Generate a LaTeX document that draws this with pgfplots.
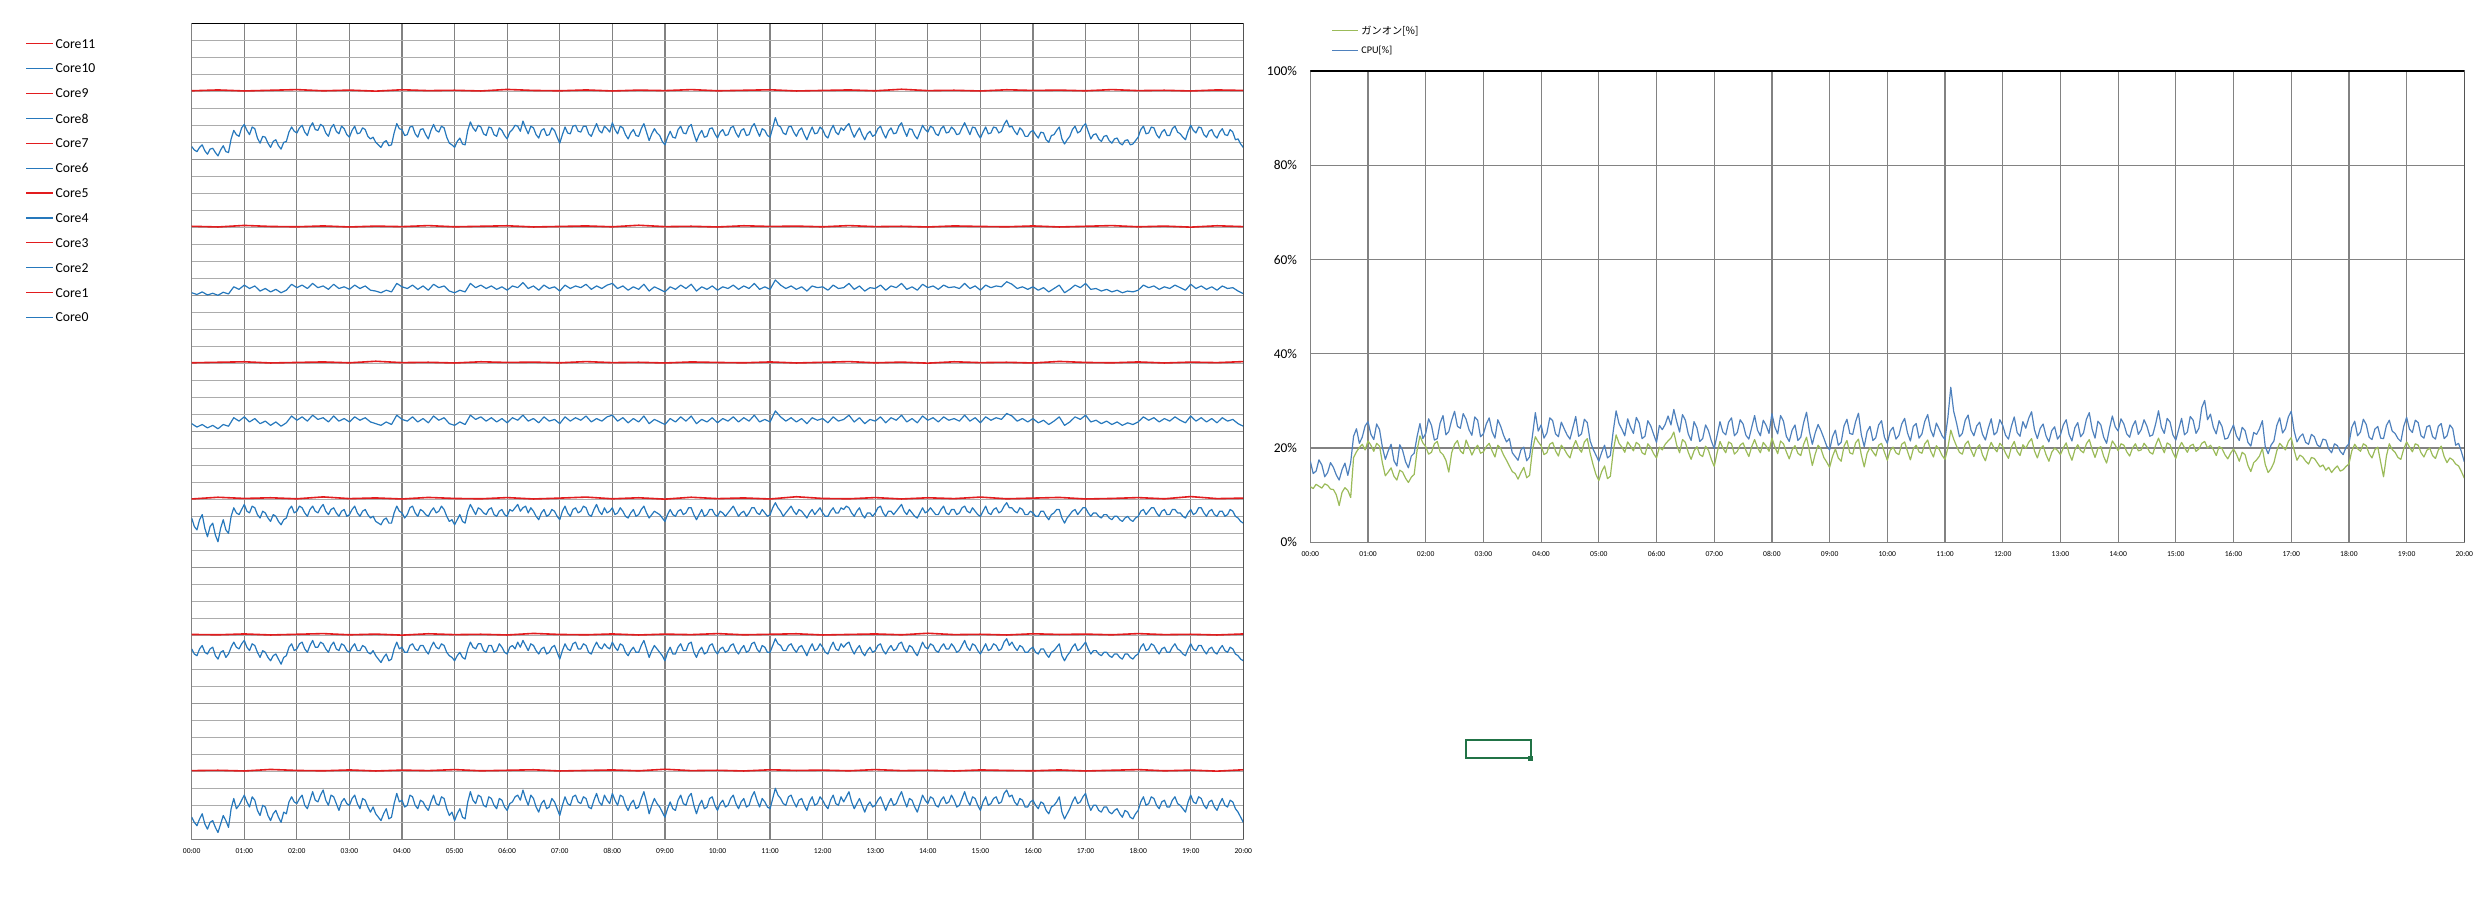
\documentclass[border=0pt]{standalone}
\usepackage{fontspec}
\setmainfont{Carlito}
\newfontfamily\jpfont{Noto Sans CJK JP}
\usepackage{pgfplots}
\usepackage{pgfplotstable}
\pgfplotsset{compat=1.18}
\definecolor{cblue}{RGB}{38,120,188}
\definecolor{cred}{RGB}{226,28,30}
\definecolor{cpublue}{RGB}{79,129,189}
\definecolor{gangreen}{RGB}{155,187,89}
\definecolor{gmaj}{RGB}{130,130,130}
\definecolor{gmid}{RGB}{150,150,150}
\definecolor{gmin}{RGB}{172,172,172}
\definecolor{xlgreen}{RGB}{33,115,70}
\newcommand\fs[1]{\fontsize{#1}{#1}\selectfont}

% ---- right chart (0.05 h steps) ----
\pgfplotstableread[header=false,row sep=\\]{
17.2\\14.6\\15.1\\17.5\\16.4\\13.9\\14.8\\16.9\\15.9\\14.3\\13.2\\15.4\\16.8\\14.2\\17.0\\22.5\\24.1\\21.0\\22.3\\24.7\\
25.6\\22.9\\21.8\\25.1\\23.9\\20.1\\17.6\\19.4\\20.8\\17.3\\16.2\\20.7\\19.5\\17.1\\15.8\\18.3\\18.9\\22.4\\25.2\\22.0\\
23.1\\26.2\\24.8\\21.7\\22.0\\25.3\\26.9\\22.8\\23.5\\25.9\\27.8\\24.6\\24.2\\27.3\\26.1\\23.9\\22.7\\26.6\\25.9\\22.4\\
23.0\\25.1\\26.4\\23.5\\22.1\\26.0\\24.6\\22.7\\21.3\\22.0\\19.0\\18.2\\17.4\\19.6\\20.2\\17.3\\18.1\\22.6\\27.5\\23.6\\
24.9\\22.1\\23.2\\26.4\\25.8\\23.0\\22.4\\25.5\\24.1\\22.8\\21.9\\24.3\\26.7\\22.5\\23.0\\26.1\\25.4\\21.5\\19.8\\18.5\\
17.2\\19.1\\20.6\\17.9\\18.4\\23.6\\27.9\\25.2\\24.0\\22.6\\26.2\\24.4\\23.1\\26.5\\25.3\\22.0\\22.5\\25.8\\24.7\\22.9\\
21.2\\24.8\\23.9\\25.0\\26.8\\24.9\\28.2\\25.6\\23.4\\27.1\\25.9\\23.0\\21.6\\25.6\\24.3\\21.4\\22.0\\24.9\\23.7\\21.5\\
19.9\\22.7\\25.6\\23.4\\22.8\\25.5\\26.4\\22.6\\23.3\\26.0\\25.1\\22.7\\21.9\\24.4\\26.9\\23.8\\22.6\\25.9\\24.8\\23.1\\
27.3\\24.5\\23.0\\26.9\\25.7\\22.5\\21.4\\23.8\\24.9\\21.6\\22.3\\25.4\\27.6\\23.5\\20.8\\23.2\\25.0\\23.7\\22.1\\20.4\\
19.6\\22.4\\23.8\\20.6\\21.2\\24.7\\26.1\\23.1\\22.9\\25.6\\27.4\\22.8\\20.3\\23.5\\24.6\\21.6\\22.2\\24.9\\25.8\\22.3\\
21.0\\23.6\\24.4\\21.9\\22.7\\25.1\\26.3\\23.2\\21.5\\24.6\\25.2\\22.1\\23.0\\25.7\\27.1\\23.9\\22.4\\25.3\\24.0\\22.6\\
21.8\\26.5\\32.9\\27.8\\25.3\\22.4\\23.1\\25.9\\27.0\\23.8\\22.6\\24.7\\25.5\\22.9\\21.7\\24.2\\26.2\\22.8\\23.4\\26.0\\
24.8\\22.7\\21.9\\24.6\\26.6\\23.3\\22.5\\25.6\\24.2\\26.3\\27.7\\23.9\\22.0\\24.2\\25.1\\22.6\\21.3\\23.7\\24.5\\21.9\\
22.8\\24.9\\26.0\\22.9\\21.5\\24.3\\25.4\\22.4\\23.2\\26.1\\27.5\\24.0\\22.1\\25.7\\24.9\\22.3\\21.0\\24.1\\26.8\\24.5\\
23.6\\26.2\\25.1\\23.0\\22.3\\24.6\\25.8\\22.9\\23.9\\26.0\\24.6\\22.5\\22.8\\25.1\\27.9\\24.4\\23.1\\26.3\\25.5\\22.8\\
21.7\\24.0\\26.3\\22.8\\23.4\\26.7\\25.9\\23.1\\24.2\\28.6\\30.1\\26.0\\27.2\\24.4\\23.0\\25.8\\24.6\\21.9\\22.1\\23.6\\
24.9\\22.6\\21.6\\24.4\\23.7\\21.2\\20.4\\23.3\\22.9\\24.1\\25.8\\20.3\\18.8\\20.6\\21.5\\24.8\\26.4\\23.2\\24.1\\26.6\\
27.8\\23.7\\21.3\\22.4\\23.0\\21.2\\20.8\\22.9\\22.4\\20.7\\20.2\\21.9\\21.7\\19.8\\19.0\\20.9\\20.5\\19.3\\18.6\\20.2\\
20.9\\24.4\\25.7\\22.6\\23.4\\26.1\\25.0\\22.3\\21.8\\24.0\\24.6\\22.1\\22.0\\24.8\\25.9\\23.6\\23.1\\22.0\\21.4\\24.6\\
26.5\\24.0\\23.3\\25.9\\25.4\\22.6\\22.1\\24.5\\24.8\\22.4\\21.9\\24.6\\25.2\\22.0\\22.6\\24.9\\24.1\\20.6\\21.0\\19.2\\
17.1\\
}\tcpu
\pgfplotstableread[header=false,row sep=\\]{
11.8\\11.4\\12.3\\11.9\\11.5\\12.4\\12.1\\11.3\\11.2\\10.1\\7.8\\10.6\\11.6\\11.0\\9.5\\18.0\\19.2\\20.1\\20.8\\19.6\\
21.5\\20.6\\19.3\\21.0\\20.4\\16.8\\14.1\\14.9\\15.8\\14.0\\13.2\\15.3\\14.9\\13.6\\12.7\\13.8\\14.4\\19.5\\22.6\\21.1\\
20.3\\18.7\\19.1\\20.9\\21.4\\19.2\\18.6\\17.4\\14.9\\19.0\\20.8\\21.6\\19.4\\18.8\\21.7\\20.2\\18.5\\19.8\\20.6\\18.9\\
19.2\\20.3\\21.0\\19.4\\18.1\\20.6\\19.9\\18.5\\17.4\\16.2\\15.0\\14.6\\13.4\\14.8\\15.9\\13.7\\14.2\\19.6\\22.4\\21.3\\
20.5\\18.6\\19.0\\20.8\\21.2\\19.4\\18.3\\20.6\\19.8\\18.7\\17.9\\20.1\\21.6\\20.0\\19.1\\21.3\\22.0\\18.9\\16.5\\14.4\\
13.1\\15.0\\16.2\\13.5\\14.0\\19.3\\22.8\\21.0\\20.2\\19.1\\21.3\\20.4\\19.4\\21.2\\20.7\\19.0\\18.6\\20.9\\20.1\\18.8\\
17.9\\20.2\\19.6\\20.8\\21.5\\22.1\\23.4\\20.6\\19.0\\21.8\\21.2\\19.1\\17.6\\19.4\\20.3\\18.6\\18.2\\20.4\\19.5\\17.6\\
16.1\\19.0\\21.4\\20.0\\19.0\\21.3\\20.9\\18.7\\19.3\\20.6\\21.1\\19.5\\18.2\\20.3\\21.8\\20.1\\19.0\\21.2\\20.4\\19.3\\
22.1\\20.3\\18.8\\21.5\\20.9\\19.2\\17.7\\19.6\\20.5\\18.9\\18.4\\20.8\\22.3\\19.4\\16.3\\18.7\\20.6\\19.8\\18.0\\17.0\\
15.9\\18.2\\19.8\\17.9\\17.2\\20.4\\21.6\\19.0\\18.7\\21.1\\21.9\\18.5\\16.0\\18.9\\20.1\\19.2\\18.3\\20.6\\21.0\\19.1\\
17.4\\19.5\\20.2\\19.0\\18.6\\20.8\\21.3\\19.3\\17.5\\19.8\\20.6\\19.2\\18.9\\20.9\\21.7\\19.4\\18.1\\20.5\\19.7\\18.4\\
17.6\\20.1\\23.8\\21.9\\20.4\\19.1\\18.7\\20.8\\21.5\\19.6\\18.2\\20.0\\20.7\\18.5\\17.3\\19.6\\21.2\\20.0\\19.2\\21.0\\
20.3\\18.9\\17.8\\20.2\\21.4\\19.3\\18.4\\20.7\\19.9\\21.2\\22.0\\19.4\\17.9\\19.8\\20.5\\18.6\\17.2\\19.1\\20.0\\19.5\\
18.6\\20.0\\21.1\\18.9\\17.4\\19.6\\20.7\\19.5\\19.0\\20.9\\21.8\\19.7\\18.0\\19.9\\20.3\\18.2\\16.8\\19.3\\21.5\\20.6\\
19.4\\20.9\\20.6\\19.2\\18.3\\20.0\\20.9\\19.4\\19.6\\21.0\\20.2\\19.1\\18.7\\20.6\\22.1\\20.4\\19.0\\21.1\\20.7\\19.0\\
17.8\\19.9\\21.2\\20.1\\19.1\\20.5\\20.8\\19.3\\19.8\\21.0\\21.4\\20.0\\20.6\\19.7\\18.4\\20.3\\19.9\\18.6\\17.7\\18.9\\
19.8\\18.7\\17.2\\19.1\\18.6\\16.3\\15.0\\16.9\\17.5\\18.3\\19.9\\16.5\\14.8\\15.6\\16.9\\19.4\\21.0\\20.3\\19.6\\21.4\\
22.2\\19.6\\17.4\\18.5\\18.1\\17.2\\16.6\\18.0\\17.8\\16.9\\16.0\\16.4\\15.3\\15.9\\14.8\\15.6\\16.2\\15.1\\15.4\\16.1\\
16.6\\19.4\\20.8\\19.9\\19.3\\20.9\\20.5\\18.8\\17.9\\19.6\\20.2\\17.0\\13.9\\18.3\\20.9\\19.7\\19.1\\18.0\\17.6\\19.8\\
21.3\\20.2\\19.2\\20.9\\20.6\\19.0\\18.1\\19.5\\20.0\\18.4\\17.8\\19.6\\20.4\\18.2\\16.9\\17.9\\17.5\\16.6\\16.2\\15.0\\
13.6\\
}\tgan

% ---- left chart, blue cores ----
% Core0 (0.05 h steps)
\pgfplotstableread[header=false,row sep=\\]{
1.3\\1.0\\0.8\\1.2\\1.5\\0.9\\0.6\\1.0\\1.1\\0.7\\0.4\\0.9\\1.4\\1.1\\0.7\\1.8\\2.4\\1.8\\2.0\\2.3\\
2.6\\2.2\\1.9\\2.5\\2.3\\1.7\\1.4\\2.0\\1.9\\1.4\\1.1\\1.5\\1.7\\1.3\\1.0\\1.6\\1.5\\2.2\\2.5\\2.2\\
2.1\\2.4\\2.6\\2.0\\1.8\\2.3\\2.8\\2.3\\2.2\\2.6\\2.9\\2.3\\2.0\\2.6\\2.5\\2.1\\1.7\\2.2\\2.4\\2.1\\
2.0\\2.4\\2.6\\2.1\\1.8\\2.4\\2.3\\1.9\\1.6\\1.9\\1.5\\1.3\\1.1\\1.5\\1.8\\1.2\\1.3\\2.1\\2.7\\2.2\\
2.3\\1.9\\2.0\\2.6\\2.5\\2.0\\1.8\\2.3\\2.2\\1.9\\1.7\\2.2\\2.6\\2.1\\2.0\\2.5\\2.4\\1.8\\1.4\\1.6\\
1.1\\1.5\\1.8\\1.3\\1.2\\2.2\\2.8\\2.3\\2.1\\2.6\\2.5\\2.0\\1.9\\2.5\\2.4\\2.0\\1.8\\2.4\\2.3\\1.9\\
1.7\\2.1\\2.2\\2.5\\2.6\\2.3\\2.9\\2.4\\2.0\\2.6\\2.4\\1.9\\1.6\\2.1\\2.3\\1.8\\1.9\\2.4\\2.2\\1.8\\
1.4\\2.0\\2.5\\2.1\\2.0\\2.5\\2.6\\2.2\\2.1\\2.5\\2.4\\1.9\\1.8\\2.3\\2.7\\2.2\\2.0\\2.6\\2.3\\2.1\\
2.7\\2.3\\2.0\\2.6\\2.5\\2.0\\1.7\\2.1\\2.3\\1.8\\1.9\\2.4\\2.8\\2.2\\1.5\\2.0\\2.4\\2.1\\1.9\\1.6\\
1.3\\1.8\\2.2\\1.8\\1.7\\2.3\\2.6\\2.1\\2.0\\2.5\\2.7\\2.0\\1.5\\2.0\\2.3\\1.8\\1.9\\2.4\\2.5\\2.0\\
1.7\\2.1\\2.3\\1.9\\2.0\\2.4\\2.6\\2.1\\1.8\\2.2\\2.4\\1.9\\2.0\\2.5\\2.8\\2.3\\1.9\\2.4\\2.2\\1.9\\
1.8\\2.4\\3.0\\2.6\\2.4\\2.1\\2.0\\2.5\\2.6\\2.2\\1.9\\2.3\\2.4\\2.0\\1.7\\2.2\\2.5\\2.0\\2.1\\2.5\\
2.3\\2.0\\1.8\\2.3\\2.6\\2.1\\2.0\\2.5\\2.2\\2.5\\2.8\\2.2\\1.8\\2.1\\2.4\\2.0\\1.6\\2.0\\2.2\\1.9\\
2.0\\2.3\\2.5\\2.1\\1.7\\2.1\\2.4\\2.0\\2.1\\2.5\\2.8\\2.3\\1.9\\2.4\\2.3\\1.9\\1.6\\2.1\\2.6\\2.3\\
2.1\\2.5\\2.4\\2.0\\1.9\\2.3\\2.5\\2.1\\2.2\\2.6\\2.3\\1.9\\2.0\\2.4\\2.8\\2.3\\2.0\\2.5\\2.4\\2.0\\
1.7\\2.2\\2.5\\2.0\\2.1\\2.4\\2.5\\2.1\\2.2\\2.7\\2.9\\2.5\\2.6\\2.2\\2.0\\2.4\\2.3\\1.9\\1.9\\2.2\\
2.3\\2.0\\1.8\\2.2\\2.1\\1.7\\1.5\\1.9\\2.0\\2.2\\2.5\\1.6\\1.2\\1.5\\1.8\\2.2\\2.5\\2.1\\2.2\\2.5\\
2.7\\2.1\\1.7\\2.0\\2.0\\1.7\\1.6\\1.9\\1.9\\1.6\\1.5\\1.7\\1.8\\1.5\\1.3\\1.7\\1.6\\1.3\\1.2\\1.5\\
1.7\\2.2\\2.5\\2.0\\2.1\\2.5\\2.4\\2.0\\1.8\\2.2\\2.3\\1.9\\1.9\\2.3\\2.5\\2.1\\2.0\\1.8\\1.6\\2.2\\
2.6\\2.2\\2.1\\2.5\\2.4\\2.0\\1.8\\2.2\\2.3\\1.9\\1.7\\2.1\\2.4\\2.0\\1.9\\2.3\\2.2\\1.8\\1.6\\1.3\\
1.0\\
}\tcoreO
% Core2 (0.05 h steps)
\pgfplotstableread[header=false,row sep=\\]{
11.2\\10.9\\10.8\\11.2\\11.4\\11.0\\10.9\\11.2\\11.3\\10.8\\10.6\\11.0\\11.1\\10.7\\10.9\\11.3\\11.6\\11.3\\11.2\\11.5\\
11.7\\11.3\\11.1\\11.5\\11.4\\11.0\\10.7\\11.1\\11.0\\10.7\\10.5\\10.8\\10.9\\10.6\\10.3\\10.7\\10.8\\11.3\\11.5\\11.1\\
11.2\\11.5\\11.6\\11.2\\11.0\\11.4\\11.7\\11.3\\11.3\\11.6\\11.5\\11.2\\11.0\\11.4\\11.6\\11.2\\11.1\\11.5\\11.4\\11.1\\
11.0\\11.3\\11.5\\11.1\\11.1\\11.4\\11.3\\11.0\\10.9\\11.1\\10.8\\10.6\\10.4\\10.7\\10.9\\10.5\\10.6\\11.2\\11.6\\11.2\\
11.3\\11.0\\11.0\\11.4\\11.5\\11.2\\11.1\\11.4\\11.4\\11.1\\10.9\\11.3\\11.6\\11.3\\11.2\\11.5\\11.4\\11.0\\10.8\\10.7\\
10.5\\10.8\\11.0\\10.7\\10.6\\11.2\\11.6\\11.3\\11.2\\11.5\\11.5\\11.1\\11.0\\11.4\\11.4\\11.0\\11.1\\11.5\\11.3\\11.0\\
10.9\\11.3\\11.4\\11.2\\11.6\\11.3\\11.7\\11.4\\11.1\\11.5\\11.4\\11.1\\10.9\\11.2\\11.3\\10.9\\11.0\\11.3\\11.4\\11.0\\
10.6\\11.1\\11.5\\11.2\\11.1\\11.5\\11.6\\11.2\\11.2\\11.5\\11.4\\11.0\\10.9\\11.3\\11.6\\11.3\\11.2\\11.5\\11.3\\11.2\\
11.6\\11.3\\11.1\\11.5\\11.4\\11.0\\10.8\\11.1\\11.3\\11.0\\11.0\\11.4\\11.7\\11.2\\10.7\\11.1\\11.4\\11.2\\11.0\\10.8\\
10.5\\11.0\\11.3\\10.9\\10.9\\11.3\\11.5\\11.1\\11.1\\11.5\\11.6\\11.0\\10.7\\11.1\\11.3\\10.9\\11.0\\11.4\\11.5\\11.1\\
10.9\\11.2\\11.3\\11.0\\11.1\\11.4\\11.5\\11.1\\10.9\\11.2\\11.4\\11.0\\11.1\\11.5\\11.6\\11.2\\11.0\\11.4\\11.3\\11.0\\
11.0\\11.4\\11.8\\11.5\\11.4\\11.1\\11.1\\11.4\\11.5\\11.2\\11.0\\11.3\\11.4\\11.1\\10.8\\11.2\\11.5\\11.1\\11.2\\11.5\\
11.3\\11.0\\10.9\\11.3\\11.6\\11.2\\11.1\\11.5\\11.3\\11.5\\11.6\\11.2\\10.9\\11.2\\11.4\\11.0\\10.8\\11.1\\11.3\\11.0\\
11.1\\11.4\\11.5\\11.1\\10.9\\11.2\\11.4\\11.1\\11.2\\11.5\\11.6\\11.2\\11.0\\11.4\\11.3\\11.0\\10.8\\11.2\\11.6\\11.3\\
11.2\\11.5\\11.4\\11.1\\11.0\\11.3\\11.5\\11.2\\11.2\\11.5\\11.3\\11.0\\11.1\\11.4\\11.7\\11.3\\11.1\\11.5\\11.4\\11.1\\
10.9\\11.2\\11.5\\11.1\\11.2\\11.5\\11.4\\11.1\\11.2\\11.6\\11.8\\11.4\\11.6\\11.3\\11.1\\11.4\\11.3\\11.0\\11.0\\11.2\\
11.3\\11.0\\10.9\\11.2\\11.2\\10.9\\10.7\\11.0\\11.1\\11.3\\11.5\\10.8\\10.5\\10.8\\11.0\\11.3\\11.5\\11.1\\11.2\\11.4\\
11.6\\11.2\\10.9\\11.1\\11.1\\10.9\\10.8\\11.0\\11.0\\10.8\\10.7\\10.9\\10.9\\10.7\\10.6\\10.9\\10.9\\10.7\\10.6\\10.8\\
10.9\\11.3\\11.5\\11.1\\11.2\\11.5\\11.4\\11.1\\10.9\\11.2\\11.3\\11.0\\11.0\\11.3\\11.5\\11.2\\11.1\\10.9\\10.8\\11.2\\
11.5\\11.2\\11.1\\11.4\\11.4\\11.1\\10.9\\11.2\\11.3\\11.0\\10.9\\11.2\\11.4\\11.1\\11.0\\11.3\\11.2\\10.9\\10.8\\10.6\\
10.5\\
}\tcoreII
% Core4 (0.05 h steps)
\pgfplotstableread[header=false,row sep=\\]{
18.9\\18.4\\18.2\\18.8\\19.1\\18.3\\17.8\\18.4\\18.6\\17.9\\17.5\\18.3\\18.8\\18.2\\18.0\\19.0\\19.5\\19.2\\19.1\\19.4\\
19.7\\19.3\\19.2\\19.6\\19.5\\19.1\\18.9\\19.3\\19.2\\18.9\\18.7\\19.1\\19.0\\18.7\\18.5\\18.8\\18.9\\19.4\\19.6\\19.2\\
19.3\\19.6\\19.5\\19.2\\19.0\\19.4\\19.6\\19.3\\19.2\\19.5\\19.7\\19.3\\19.1\\19.4\\19.5\\19.2\\19.0\\19.3\\19.4\\19.0\\
19.1\\19.4\\19.6\\19.2\\19.0\\19.3\\19.4\\19.1\\18.9\\19.0\\18.7\\18.6\\18.5\\18.8\\18.9\\18.6\\18.6\\19.2\\19.6\\19.3\\
19.2\\18.9\\19.1\\19.5\\19.6\\19.2\\19.0\\19.4\\19.3\\19.1\\19.0\\19.3\\19.5\\19.2\\19.3\\19.6\\19.4\\19.0\\18.7\\18.8\\
18.5\\18.8\\19.1\\18.7\\18.6\\19.3\\19.7\\19.4\\19.1\\19.5\\19.4\\19.2\\19.1\\19.4\\19.5\\19.1\\19.0\\19.3\\19.4\\19.1\\
19.0\\19.4\\19.3\\19.5\\19.7\\19.3\\19.5\\19.6\\19.2\\19.5\\19.3\\19.0\\18.8\\19.2\\19.4\\19.0\\19.1\\19.4\\19.3\\19.0\\
18.8\\19.3\\19.6\\19.2\\19.0\\19.4\\19.5\\19.2\\19.3\\19.6\\19.5\\19.1\\19.0\\19.4\\19.7\\19.3\\19.1\\19.5\\19.2\\19.3\\
19.5\\19.1\\19.2\\19.5\\19.3\\19.0\\18.9\\19.2\\19.4\\19.0\\19.1\\19.4\\19.6\\19.2\\18.9\\19.1\\19.3\\19.2\\19.1\\18.9\\
18.7\\19.1\\19.4\\19.1\\19.0\\19.3\\19.4\\19.1\\19.2\\19.5\\19.5\\19.1\\18.8\\19.1\\19.4\\19.0\\19.1\\19.4\\19.4\\19.1\\
19.0\\19.3\\19.2\\19.0\\19.2\\19.4\\19.6\\19.3\\19.0\\19.2\\19.3\\19.0\\19.2\\19.5\\19.5\\19.2\\19.1\\19.4\\19.2\\19.0\\
19.1\\19.5\\19.8\\19.5\\19.3\\19.0\\19.2\\19.4\\19.6\\19.3\\19.1\\19.4\\19.3\\19.1\\18.9\\19.2\\19.4\\19.1\\19.3\\19.5\\
19.2\\19.0\\19.0\\19.3\\19.5\\19.2\\19.2\\19.5\\19.4\\19.6\\19.5\\19.2\\19.0\\19.3\\19.5\\19.1\\18.9\\19.2\\19.2\\19.0\\
19.2\\19.5\\19.6\\19.2\\19.0\\19.3\\19.3\\19.1\\19.3\\19.5\\19.7\\19.3\\19.1\\19.4\\19.2\\19.0\\18.9\\19.2\\19.5\\19.2\\
19.3\\19.5\\19.3\\19.1\\19.1\\19.4\\19.6\\19.2\\19.1\\19.4\\19.4\\19.1\\19.2\\19.5\\19.6\\19.3\\19.2\\19.5\\19.3\\19.1\\
19.0\\19.3\\19.6\\19.2\\19.1\\19.4\\19.5\\19.2\\19.3\\19.6\\19.8\\19.5\\19.5\\19.3\\19.2\\19.5\\19.4\\19.1\\19.1\\19.3\\
19.2\\19.0\\19.0\\19.3\\19.3\\19.0\\18.8\\19.1\\19.2\\19.4\\19.4\\18.9\\18.6\\18.9\\19.1\\19.3\\19.4\\19.1\\19.3\\19.5\\
19.5\\19.2\\19.0\\19.2\\19.2\\19.0\\18.9\\19.1\\19.1\\18.9\\18.8\\19.0\\19.0\\18.8\\18.7\\18.9\\19.0\\18.8\\18.7\\18.9\\
19.0\\19.3\\19.4\\19.1\\19.3\\19.5\\19.5\\19.2\\19.0\\19.3\\19.4\\19.1\\19.1\\19.4\\19.4\\19.2\\19.2\\19.0\\18.9\\19.2\\
19.4\\19.1\\19.2\\19.5\\19.5\\19.2\\19.0\\19.3\\19.4\\19.1\\19.0\\19.3\\19.3\\19.0\\19.1\\19.4\\19.3\\19.0\\18.9\\18.7\\
18.6\\
}\tcoreIV
% Core6 (0.1 h steps)
\pgfplotstableread[header=false,row sep=\\]{
24.45\\24.25\\24.40\\24.20\\24.35\\24.15\\24.40\\24.30\\24.80\\24.60\\
24.85\\24.55\\24.75\\24.45\\24.60\\24.35\\24.55\\24.30\\24.50\\24.90\\
24.65\\24.85\\24.60\\24.95\\24.70\\24.80\\24.55\\24.90\\24.60\\24.75\\
24.55\\24.85\\24.65\\24.80\\24.55\\24.45\\24.35\\24.55\\24.40\\24.95\\
24.70\\24.60\\24.85\\24.55\\24.75\\24.50\\24.90\\24.65\\24.80\\24.45\\
24.35\\24.55\\24.40\\24.95\\24.70\\24.85\\24.60\\24.80\\24.55\\24.75\\
24.50\\24.80\\24.65\\24.95\\24.60\\24.75\\24.50\\24.85\\24.60\\24.70\\
24.45\\24.85\\24.60\\24.80\\24.65\\24.90\\24.55\\24.75\\24.60\\24.85\\
24.95\\24.60\\24.80\\24.50\\24.75\\24.55\\24.90\\24.45\\24.70\\24.55\\
24.40\\24.75\\24.55\\24.85\\24.60\\24.90\\24.45\\24.70\\24.55\\24.80\\
24.50\\24.75\\24.60\\24.85\\24.55\\24.80\\24.60\\24.95\\24.55\\24.70\\
24.55\\25.20\\24.85\\24.60\\24.80\\24.55\\24.75\\24.45\\24.80\\24.65\\
24.75\\24.50\\24.85\\24.60\\24.70\\24.95\\24.55\\24.80\\24.45\\24.70\\
24.60\\24.85\\24.50\\24.80\\24.65\\24.95\\24.55\\24.75\\24.50\\24.90\\
24.65\\24.80\\24.55\\24.85\\24.65\\24.75\\24.60\\24.95\\24.60\\24.80\\
24.50\\24.85\\24.65\\24.80\\24.70\\25.05\\24.90\\24.60\\24.75\\24.55\\
24.75\\24.50\\24.65\\24.40\\24.60\\24.85\\24.35\\24.55\\24.85\\24.70\\
24.95\\24.55\\24.65\\24.45\\24.60\\24.40\\24.55\\24.35\\24.50\\24.40\\
24.55\\24.85\\24.65\\24.80\\24.55\\24.75\\24.60\\24.85\\24.65\\24.50\\
24.90\\24.60\\24.80\\24.55\\24.75\\24.50\\24.80\\24.60\\24.70\\24.45\\
24.30\\
}\tcoreVI
% Core8 (0.1 h steps)
\pgfplotstableread[header=false,row sep=\\]{
32.15\\32.05\\32.20\\32.02\\32.12\\32.00\\32.18\\32.08\\32.50\\32.35\\
32.60\\32.40\\32.55\\32.25\\32.40\\32.20\\32.35\\32.15\\32.30\\32.65\\
32.45\\32.60\\32.40\\32.70\\32.45\\32.55\\32.35\\32.65\\32.40\\32.50\\
32.35\\32.60\\32.40\\32.55\\32.30\\32.25\\32.15\\32.30\\32.20\\32.70\\
32.50\\32.40\\32.60\\32.35\\32.55\\32.30\\32.65\\32.45\\32.55\\32.25\\
32.15\\32.30\\32.20\\32.70\\32.45\\32.60\\32.40\\32.55\\32.35\\32.50\\
32.30\\32.55\\32.45\\32.75\\32.40\\32.55\\32.30\\32.60\\32.40\\32.50\\
32.25\\32.60\\32.40\\32.55\\32.45\\32.65\\32.35\\32.55\\32.40\\32.60\\
32.70\\32.40\\32.55\\32.30\\32.50\\32.35\\32.65\\32.25\\32.50\\32.35\\
32.20\\32.50\\32.35\\32.60\\32.40\\32.65\\32.25\\32.50\\32.35\\32.55\\
32.30\\32.50\\32.40\\32.60\\32.35\\32.55\\32.40\\32.70\\32.35\\32.50\\
32.35\\32.90\\32.60\\32.40\\32.55\\32.35\\32.50\\32.25\\32.55\\32.45\\
32.50\\32.30\\32.60\\32.40\\32.45\\32.70\\32.35\\32.55\\32.25\\32.45\\
32.40\\32.60\\32.30\\32.55\\32.45\\32.70\\32.35\\32.50\\32.30\\32.65\\
32.45\\32.55\\32.35\\32.60\\32.45\\32.50\\32.40\\32.70\\32.40\\32.55\\
32.30\\32.60\\32.45\\32.55\\32.50\\32.80\\32.65\\32.40\\32.50\\32.35\\
32.50\\32.30\\32.45\\32.20\\32.40\\32.60\\32.15\\32.35\\32.60\\32.45\\
32.70\\32.35\\32.40\\32.25\\32.35\\32.20\\32.30\\32.15\\32.25\\32.20\\
32.30\\32.60\\32.45\\32.55\\32.35\\32.50\\32.40\\32.60\\32.45\\32.30\\
32.65\\32.40\\32.55\\32.35\\32.50\\32.30\\32.55\\32.40\\32.45\\32.25\\
32.10\\
}\tcoreVIII
% Core10 (0.05 h steps)
\pgfplotstableread[header=false,row sep=\\]{
40.75\\40.55\\40.45\\40.70\\40.85\\40.50\\40.30\\40.60\\40.65\\40.40\\40.20\\40.55\\40.80\\40.45\\40.40\\41.20\\41.70\\41.45\\41.35\\41.85\\
42.05\\41.70\\41.45\\41.90\\41.80\\41.25\\40.95\\41.35\\41.30\\40.95\\40.70\\41.05\\41.15\\40.80\\40.60\\41.00\\41.05\\41.60\\41.90\\41.65\\
41.55\\41.85\\42.00\\41.60\\41.40\\41.90\\42.15\\41.75\\41.70\\42.05\\41.95\\41.55\\41.35\\41.85\\42.05\\41.65\\41.50\\41.95\\41.80\\41.45\\
41.30\\41.70\\41.95\\41.50\\41.55\\41.85\\41.75\\41.35\\41.20\\41.30\\41.00\\40.85\\40.70\\41.00\\41.10\\40.80\\40.85\\41.55\\42.10\\41.80\\
41.75\\41.40\\41.45\\41.90\\41.95\\41.50\\41.30\\41.75\\41.80\\41.45\\41.20\\41.70\\42.05\\41.70\\41.60\\41.95\\41.85\\41.30\\40.95\\40.85\\
40.70\\41.05\\41.25\\40.90\\40.85\\41.70\\42.20\\41.85\\41.65\\42.00\\41.90\\41.50\\41.40\\41.90\\41.85\\41.45\\41.35\\41.85\\41.70\\41.40\\
41.20\\41.60\\41.75\\42.00\\41.95\\41.65\\42.25\\41.85\\41.50\\41.95\\41.85\\41.45\\41.25\\41.70\\41.80\\41.40\\41.45\\41.85\\41.70\\41.30\\
40.95\\41.45\\41.90\\41.55\\41.50\\41.95\\42.00\\41.65\\41.60\\41.95\\41.95\\41.50\\41.35\\41.75\\42.10\\41.70\\41.55\\41.95\\41.80\\41.60\\
42.15\\41.75\\41.50\\41.95\\41.85\\41.45\\41.20\\41.55\\41.75\\41.40\\41.35\\41.80\\42.10\\41.60\\41.10\\41.50\\41.80\\41.55\\41.40\\41.05\\
40.85\\41.30\\41.65\\41.30\\41.25\\41.75\\41.95\\41.55\\41.50\\41.90\\42.05\\41.50\\41.05\\41.45\\41.70\\41.30\\41.35\\41.80\\41.85\\41.50\\
41.25\\41.60\\41.75\\41.40\\41.45\\41.85\\41.95\\41.55\\41.30\\41.70\\41.80\\41.40\\41.45\\41.90\\42.10\\41.70\\41.35\\41.80\\41.70\\41.40\\
41.30\\41.85\\42.45\\42.00\\41.90\\41.55\\41.45\\41.90\\41.95\\41.60\\41.35\\41.70\\41.85\\41.45\\41.15\\41.55\\41.90\\41.50\\41.55\\41.90\\
41.75\\41.40\\41.25\\41.70\\42.00\\41.60\\41.45\\41.85\\41.70\\41.95\\42.10\\41.65\\41.30\\41.60\\41.85\\41.45\\41.15\\41.50\\41.65\\41.35\\
41.45\\41.80\\41.95\\41.55\\41.25\\41.65\\41.85\\41.50\\41.55\\41.95\\42.15\\41.70\\41.35\\41.80\\41.75\\41.40\\41.20\\41.60\\42.00\\41.75\\
41.60\\41.95\\41.85\\41.50\\41.40\\41.80\\41.95\\41.55\\41.60\\41.90\\41.75\\41.45\\41.50\\41.85\\42.15\\41.80\\41.45\\41.90\\41.85\\41.50\\
41.25\\41.60\\41.90\\41.50\\41.55\\41.90\\41.85\\41.55\\41.65\\42.05\\42.30\\41.90\\41.95\\41.65\\41.45\\41.85\\41.70\\41.35\\41.35\\41.60\\
41.70\\41.45\\41.25\\41.60\\41.55\\41.15\\41.00\\41.40\\41.45\\41.70\\41.90\\41.20\\40.90\\41.15\\41.35\\41.75\\41.95\\41.55\\41.65\\41.95\\
42.10\\41.65\\41.20\\41.45\\41.50\\41.20\\41.05\\41.35\\41.40\\41.10\\40.95\\41.20\\41.25\\40.95\\40.85\\41.10\\41.15\\40.85\\40.90\\41.10\\
41.30\\41.75\\41.95\\41.50\\41.55\\41.90\\41.85\\41.45\\41.25\\41.60\\41.75\\41.40\\41.40\\41.80\\41.95\\41.60\\41.50\\41.30\\41.15\\41.65\\
42.00\\41.70\\41.55\\41.90\\41.85\\41.45\\41.30\\41.65\\41.75\\41.40\\41.25\\41.60\\41.80\\41.45\\41.40\\41.75\\41.60\\41.15\\41.20\\40.90\\
40.70\\
}\tcoreX

% ---- left chart, red cores (0.5 h steps) ----
\pgfplotstableread[header=false,row sep=\\]{
44.03\\44.08\\44.02\\44.06\\44.10\\44.03\\44.07\\44.01\\44.09\\44.04\\
44.06\\44.02\\44.11\\44.05\\44.03\\44.08\\44.02\\44.07\\44.04\\44.10\\
44.03\\44.06\\44.09\\44.02\\44.05\\44.08\\44.03\\44.12\\44.04\\44.06\\
44.02\\44.09\\44.05\\44.07\\44.03\\44.10\\44.04\\44.06\\44.02\\44.08\\
44.05\\
}\tcoreXI
\pgfplotstableread[header=false,row sep=\\]{
36.06\\36.02\\36.11\\36.05\\36.03\\36.08\\36.02\\36.07\\36.04\\36.10\\
36.03\\36.06\\36.09\\36.02\\36.05\\36.08\\36.03\\36.12\\36.04\\36.06\\
36.02\\36.09\\36.05\\36.07\\36.03\\36.10\\36.04\\36.06\\36.02\\36.08\\
36.05\\36.03\\36.08\\36.02\\36.06\\36.10\\36.03\\36.07\\36.01\\36.09\\
36.04\\
}\tcoreIX
\pgfplotstableread[header=false,row sep=\\]{
28.03\\28.06\\28.09\\28.02\\28.05\\28.08\\28.03\\28.12\\28.04\\28.06\\
28.02\\28.09\\28.05\\28.07\\28.03\\28.10\\28.04\\28.06\\28.02\\28.08\\
28.05\\28.03\\28.08\\28.02\\28.06\\28.10\\28.03\\28.07\\28.01\\28.09\\
28.04\\28.06\\28.02\\28.11\\28.05\\28.03\\28.08\\28.02\\28.07\\28.04\\
28.10\\
}\tcoreVII
\pgfplotstableread[header=false,row sep=\\]{
20.02\\20.12\\20.05\\20.09\\20.03\\20.14\\20.04\\20.08\\20.02\\20.11\\
20.05\\20.03\\20.10\\20.02\\20.07\\20.13\\20.03\\20.09\\20.01\\20.12\\
20.04\\20.08\\20.02\\20.15\\20.05\\20.03\\20.10\\20.02\\20.09\\20.04\\
20.13\\20.03\\20.07\\20.11\\20.02\\20.05\\20.10\\20.03\\20.16\\20.04\\
20.07\\
}\tcoreV
\pgfplotstableread[header=false,row sep=\\]{
12.05\\12.03\\12.08\\12.02\\12.06\\12.10\\12.03\\12.07\\12.01\\12.09\\
12.04\\12.06\\12.02\\12.11\\12.05\\12.03\\12.08\\12.02\\12.07\\12.04\\
12.10\\12.03\\12.06\\12.09\\12.02\\12.05\\12.08\\12.03\\12.12\\12.04\\
12.06\\12.02\\12.09\\12.05\\12.07\\12.03\\12.10\\12.04\\12.06\\12.02\\
12.08\\
}\tcoreIII
\pgfplotstableread[header=false,row sep=\\]{
4.04\\4.06\\4.02\\4.11\\4.05\\4.03\\4.08\\4.02\\4.07\\4.04\\
4.10\\4.03\\4.06\\4.09\\4.02\\4.05\\4.08\\4.03\\4.12\\4.04\\
4.06\\4.02\\4.09\\4.05\\4.07\\4.03\\4.10\\4.04\\4.06\\4.02\\
4.08\\4.05\\4.03\\4.08\\4.02\\4.06\\4.10\\4.03\\4.07\\4.01\\
4.09\\
}\tcoreI

\pgfplotsset{
  hourticks/.style={
    xmin=0, xmax=20, xtick={0,...,20},
    xticklabels={00:00,01:00,02:00,03:00,04:00,05:00,06:00,07:00,08:00,09:00,10:00,11:00,12:00,13:00,14:00,15:00,16:00,17:00,18:00,19:00,20:00},
    xticklabel style={font=\fs{3.8}, inner sep=0pt, yshift=-4.3pt},
    tick style={draw=none},
    axis line style={draw=gmaj, line width=0.6pt},
    xmajorgrids, ymajorgrids,
    major x grid style={draw=gmaj, line width=0.6pt},
  },
  core/.style={line width=0.6pt, line join=round},
  redcore/.style={line width=0.8pt, line join=round},
}

\begin{document}
\begin{tikzpicture}
\useasboundingbox (0,0) rectangle (1244.5pt,448pt);

% ---------------- left chart ----------------
\begin{axis}[
  hourticks,
  at={(95.85pt,28.35pt)}, anchor=south west, scale only axis,
  width=525.8pt, height=408pt,
  ymin=0, ymax=48,
  ytick={0,8,...,48}, yticklabels={},
  minor ytick={0,1,...,48}, yminorgrids,
  major y grid style={draw=gmid, line width=0.6pt},
  minor y grid style={draw=gmin, line width=0.55pt},
]
\addplot[redcore, cred] table[x expr=\coordindex/2, y index=0] {\tcoreXI};
\addplot[core, cblue] table[x expr=\coordindex/20, y index=0] {\tcoreX};
\addplot[redcore, cred] table[x expr=\coordindex/2, y index=0] {\tcoreIX};
\addplot[core, cblue] table[x expr=\coordindex/10, y index=0] {\tcoreVIII};
\addplot[redcore, cred] table[x expr=\coordindex/2, y index=0] {\tcoreVII};
\addplot[core, cblue] table[x expr=\coordindex/10, y index=0] {\tcoreVI};
\addplot[redcore, cred] table[x expr=\coordindex/2, y index=0] {\tcoreV};
\addplot[core, cblue] table[x expr=\coordindex/20, y index=0] {\tcoreIV};
\addplot[redcore, cred] table[x expr=\coordindex/2, y index=0] {\tcoreIII};
\addplot[core, cblue] table[x expr=\coordindex/20, y index=0] {\tcoreII};
\addplot[redcore, cred] table[x expr=\coordindex/2, y index=0] {\tcoreI};
\addplot[core, cblue] table[x expr=\coordindex/20, y index=0] {\tcoreO};
\draw[black, line width=0.8pt] (rel axis cs:0,1) -- (rel axis cs:1,1) -- (rel axis cs:1,0);
\end{axis}

% ---------------- right chart ----------------
\begin{axis}[
  hourticks,
  at={(655.15pt,176.85pt)}, anchor=south west, scale only axis,
  width=577pt, height=235.65pt,
  ymin=0, ymax=100, ytick={0,20,...,100},
  yticklabels={0\%,20\%,40\%,60\%,80\%,100\%},
  yticklabel style={font=\fs{6.7}, inner sep=0pt, xshift=-6.5pt},
  major y grid style={draw=gmaj, line width=0.6pt},
]
\addplot[core, gangreen] table[x expr=\coordindex/20, y index=0] {\tgan};
\addplot[core, cpublue] table[x expr=\coordindex/20, y index=0] {\tcpu};
\draw[black, line width=0.8pt] (rel axis cs:0,1) -- (rel axis cs:1,1) -- (rel axis cs:1,0);
\end{axis}

% ---------------- left legend ----------------
\foreach \name/\col [count=\k from 0] in {Core11/cred,Core10/cblue,Core9/cred,Core8/cblue,Core7/cred,Core6/cblue,Core5/cred,Core4/cblue,Core3/cred,Core2/cblue,Core1/cred,Core0/cblue}{
  \pgfmathsetmacro\yy{426.15-12.45*\k}
  \draw[\col, line width=0.6pt] (13pt,\yy pt) -- (26.5pt,\yy pt);
  \node[anchor=west, inner sep=0pt, font=\fs{6.85}] at (27.6pt,\yy pt) {\name};
}

% ---------------- right legend ----------------
\draw[gangreen, line width=0.5pt] (666pt,432.5pt) -- (679pt,432.5pt);
\node[anchor=west, inner sep=0pt, font=\fs{5.1}] at (680.5pt,432.5pt) {\jpfont ガンオン[\%]};
\draw[cpublue, line width=0.5pt] (666pt,422.5pt) -- (679pt,422.5pt);
\node[anchor=west, inner sep=0pt, font=\fs{5.1}] at (680.5pt,422.5pt) {CPU[\%]};

% ---------------- selected cell ----------------
\draw[xlgreen, line width=1pt] (732.85pt,78pt) rectangle (765.5pt,68.85pt);
\fill[xlgreen] (763.9pt,67.5pt) rectangle (766.7pt,70.2pt);
\end{tikzpicture}
\end{document}
